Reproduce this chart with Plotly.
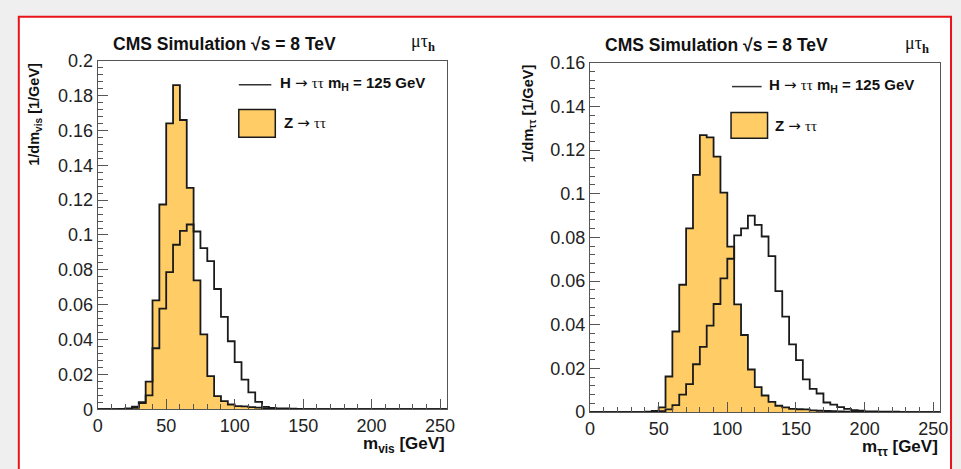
import plotly.graph_objects as go

# ---------------- data ----------------
bin_edges = [0, 5, 10, 15, 20, 25, 30, 35, 40, 45, 50, 55, 60, 65, 70, 75, 80, 85, 90, 95,
             100, 105, 110, 115, 120, 125, 130, 135, 140, 145, 150, 155, 160, 165, 170, 175,
             180, 185, 190, 195, 200, 205, 210, 215, 220, 225, 230, 235, 240, 245, 250, 255]

# left panel: visible mass m_vis (per 5 GeV bin)
mvis_ztt = [0, 0, 0, 0, 0.0002, 0.0008, 0.004, 0.0158, 0.0625, 0.1175,
            0.164, 0.186, 0.166, 0.127, 0.074, 0.043, 0.019, 0.0075, 0.0046, 0.0027,
            0.0018, 0.0016, 0.0012, 0.0009, 0.0004, 0.0002, 0.0001, 0, 0, 0,
            0, 0, 0, 0, 0, 0, 0, 0, 0, 0,
            0, 0, 0, 0, 0, 0, 0, 0, 0, 0, 0]
mvis_htt = [0, 0, 0, 0.0002, 0.0005, 0.0015, 0.0035, 0.008, 0.035, 0.0577,
            0.0787, 0.0944, 0.1024, 0.106, 0.102, 0.0924, 0.085, 0.069, 0.053, 0.039,
            0.027, 0.017, 0.0097, 0.0042, 0.0013, 0.0007, 0.0005, 0.0004, 0.0003, 0.0002,
            0.0001, 0.0001, 0, 0, 0, 0, 0, 0, 0, 0,
            0, 0, 0, 0, 0, 0, 0, 0, 0, 0, 0]

# right panel: reconstructed m_tautau (per 5 GeV bin)
mtt_ztt = [0, 0, 0, 0, 0, 0, 0, 0, 0.0002, 0.0005,
           0.0022, 0.0163, 0.0369, 0.0583, 0.0841, 0.1086, 0.1268, 0.1258, 0.117, 0.1005,
           0.0758, 0.0493, 0.0353, 0.0195, 0.0114, 0.0076, 0.0047, 0.0029, 0.0022, 0.0015,
           0.0013, 0.0012, 0.0008, 0.0006, 0.0005, 0.0004, 0.0003, 0.0002, 0.0001, 0.0001,
           0, 0, 0, 0, 0, 0, 0, 0, 0, 0, 0]
mtt_htt = [0, 0, 0, 0, 0, 0, 0, 0, 0, 0,
           0.0004, 0.0012, 0.0032, 0.008, 0.0128, 0.0219, 0.0299, 0.0396, 0.0495, 0.0612,
           0.0702, 0.0809, 0.0841, 0.090, 0.0857, 0.0804, 0.0714, 0.0554, 0.0437, 0.031,
           0.0238, 0.015, 0.0106, 0.0085, 0.0044, 0.0034, 0.0023, 0.0015, 0.0009, 0.0006,
           0.0003, 0.0003, 0.0002, 0.0002, 0.0002, 0, 0, 0, 0, 0, 0]

x_tickvals = [0, 50, 100, 150, 200, 250]
x_ticktext = ["0", "50", "100", "150", "200", "250"]
yl_tickvals = [0, 0.02, 0.04, 0.06, 0.08, 0.1, 0.12, 0.14, 0.16, 0.18, 0.2]
yl_ticktext = ["0", "0.02", "0.04", "0.06", "0.08", "0.1", "0.12", "0.14", "0.16", "0.18", "0.2"]
yr_tickvals = [0, 0.02, 0.04, 0.06, 0.08, 0.1, 0.12, 0.14, 0.16]
yr_ticktext = ["0", "0.02", "0.04", "0.06", "0.08", "0.1", "0.12", "0.14", "0.16"]

# ---------------- layout helpers ----------------
W, H = 961, 469
def X(p): return p / W
def Y(p): return 1 - p / H

ORANGE = "#FFCC66"
LINE = "#1a1a1a"
AX = "#555555"
FONT = "Liberation Sans"

def steps(vals):
    return list(vals) + [vals[-1]]

fig = go.Figure()
for xa, ya, z, h in [("x", "y", mvis_ztt, mvis_htt), ("x2", "y2", mtt_ztt, mtt_htt)]:
    fig.add_trace(go.Scatter(x=bin_edges, y=steps(z), mode="lines",
                             line=dict(shape="hv", color=LINE, width=1.8),
                             fill="tozeroy", fillcolor=ORANGE,
                             xaxis=xa, yaxis=ya, showlegend=False, hoverinfo="skip"))
    fig.add_trace(go.Scatter(x=bin_edges, y=steps(h), mode="lines",
                             line=dict(shape="hv", color=LINE, width=1.8),
                             xaxis=xa, yaxis=ya, showlegend=False, hoverinfo="skip"))

def xaxis(domain):
    return dict(domain=domain, range=[0, 255], tickmode="array", tickvals=x_tickvals,
                ticktext=x_ticktext, ticks="inside", ticklen=10, tickwidth=1, tickcolor=AX,
                minor=dict(ticks="inside", ticklen=5, tickwidth=1, tickcolor=AX, dtick=10, tick0=0),
                showline=True, linecolor=AX, linewidth=1.2, mirror=True, showgrid=False,
                zeroline=False, tickfont=dict(family=FONT, size=18, color="#222"), fixedrange=True)

def yaxis(domain, top, tv, tt, anchor):
    return dict(domain=domain, range=[0, top], tickmode="array", tickvals=tv, ticktext=tt,
                ticks="inside", ticklen=10, tickwidth=1, tickcolor=AX,
                minor=dict(ticks="inside", ticklen=5, tickwidth=1, tickcolor=AX, dtick=0.004, tick0=0),
                showline=True, linecolor=AX, linewidth=1.2, mirror=True, showgrid=False,
                zeroline=False, tickfont=dict(family=FONT, size=18, color="#222"),
                anchor=anchor, fixedrange=True)

fig.update_layout(
    width=W, height=H, margin=dict(l=0, r=0, t=0, b=0),
    paper_bgcolor="#efefef", plot_bgcolor="white",
    xaxis=dict(xaxis([X(94), X(448)]), anchor="y"),
    yaxis=yaxis([Y(417), Y(53)], 0.2, yl_tickvals, yl_ticktext, "x"),
    xaxis2=dict(xaxis([X(593), X(948)]), anchor="y2"),
    yaxis2=yaxis([Y(420), Y(55)], 0.16, yr_tickvals, yr_ticktext, "x2"),
)

shapes = [
    dict(type="rect", xref="paper", yref="paper", x0=X(14), x1=X(959), y0=-0.1, y1=Y(7),
         line=dict(color="#e8141a", width=2), fillcolor="white", layer="below"),
]
annotations = []

GREEK = ("<span style='font-family:DejaVu Sans;font-weight:normal'>→</span> "
         "<span style='font-family:Liberation Serif;font-weight:normal'>ττ</span>")

def legend(lx0, lx1, ly, bx0, bx1, by0, by1, tx_h, ty_h, tx_z, ty_z):
    shapes.append(dict(type="line", xref="paper", yref="paper", x0=X(lx0), x1=X(lx1),
                       y0=Y(ly), y1=Y(ly), line=dict(color="#333", width=1.5)))
    shapes.append(dict(type="rect", xref="paper", yref="paper", x0=X(bx0), x1=X(bx1),
                       y0=Y(by1), y1=Y(by0), fillcolor=ORANGE, line=dict(color=LINE, width=1.5)))
    annotations.append(dict(xref="paper", yref="paper", x=X(tx_h), y=Y(ty_h), xanchor="left",
                            yanchor="middle", showarrow=False,
                            text="<b>H</b> " + GREEK + " <b>m<sub>H</sub> = 125 GeV</b>",
                            font=dict(family=FONT, size=15, color="#111")))
    annotations.append(dict(xref="paper", yref="paper", x=X(tx_z), y=Y(ty_z), xanchor="left",
                            yanchor="middle", showarrow=False, text="<b>Z</b> " + GREEK,
                            font=dict(family=FONT, size=15, color="#111")))

legend(237, 270, 78, 237, 274, 104, 133, 277, 77, 281, 118)
legend(737, 767, 80, 736, 773, 107, 134, 772, 79, 779, 121)

for cx, cy, mx, my in [(222.5, 35, 410, 34), (721.5, 37, 910, 36)]:
    annotations.append(dict(xref="paper", yref="paper", x=X(cx), y=Y(cy), xanchor="center",
                            yanchor="middle", showarrow=False,
                            text="<b>CMS Simulation √s = 8 TeV</b>",
                            font=dict(family=FONT, size=17.5, color="#111")))
    annotations.append(dict(xref="paper", yref="paper", x=X(mx), y=Y(my), xanchor="left",
                            yanchor="middle", showarrow=False,
                            text="μτ<sub><b>h</b></sub>",
                            font=dict(family="Liberation Serif", size=18, color="#111")))

for x, y, t in [(448, 454, "<b>m<sub>vis</sub> [GeV]</b>"), (948, 458, "<b>m<sub>ττ</sub> [GeV]</b>")]:
    annotations.append(dict(xref="paper", yref="paper", x=X(x), y=Y(y), xanchor="right",
                            yanchor="middle", showarrow=False, text=t,
                            font=dict(family=FONT, size=17, color="#111")))

for x, y, t in [(31, 53, "<b>1/dm<sub>vis</sub> [1/GeV]</b>"), (531, 55, "<b>1/dm<sub>ττ</sub> [1/GeV]</b>")]:
    annotations.append(dict(xref="paper", yref="paper", x=X(x), y=Y(y), xanchor="center",
                            yanchor="top", showarrow=False, text=t, textangle=-90,
                            font=dict(family=FONT, size=14.5, color="#111")))

fig.update_layout(shapes=shapes, annotations=annotations)
fig.write_html("out.html")
